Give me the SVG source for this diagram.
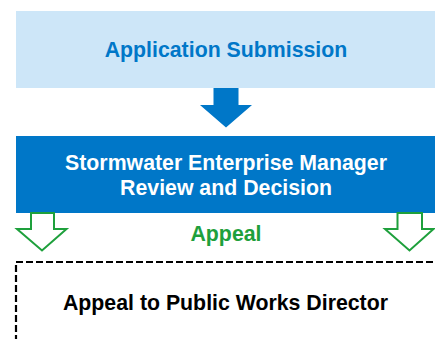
<svg xmlns="http://www.w3.org/2000/svg" width="435" height="339" viewBox="0 0 435 339">
<style>
text{font-family:"Liberation Sans",Arial,sans-serif;font-weight:bold;font-size:21.3px;text-anchor:middle}
.garrow{fill:#ffffff;stroke:#1ea03c;stroke-width:2;stroke-linejoin:miter}
</style>
<rect width="435" height="339" fill="#ffffff"/>
<g id="application-submission">
<rect x="16" y="11" width="430" height="77" fill="#cde6f8"/>
<text x="226" y="57" fill="#0077c8">Application Submission</text>
</g>
<g id="manager-review">
<rect x="16" y="136" width="430" height="77" fill="#0077c8"/>
<text x="226" y="169.5" fill="#ffffff">Stormwater Enterprise Manager</text>
<text x="226" y="195" fill="#ffffff">Review and Decision</text>
</g>
<g id="appeal-director">
<rect x="16" y="262" width="440" height="100" fill="none" stroke="#000000" stroke-width="2.2" stroke-dasharray="7 3"/>
<text x="225.5" y="309.5" fill="#000000">Appeal to Public Works Director</text>
</g>
<g id="connectors">
<polygon points="213.5,88 238.5,88 238.5,105 252,105 226,127.5 200,105 213.5,105" fill="#0077c8"/>
<polygon class="garrow" points="31,213 54,213 54,229 66.5,229 42,250.5 17,229 31,229"/>
<polygon class="garrow" points="397.5,213 422,213 422,229 433.5,229 409.5,250.5 385,229 397.5,229"/>
<text x="226" y="241" fill="#1ea03c">Appeal</text>
</g>
</svg>
